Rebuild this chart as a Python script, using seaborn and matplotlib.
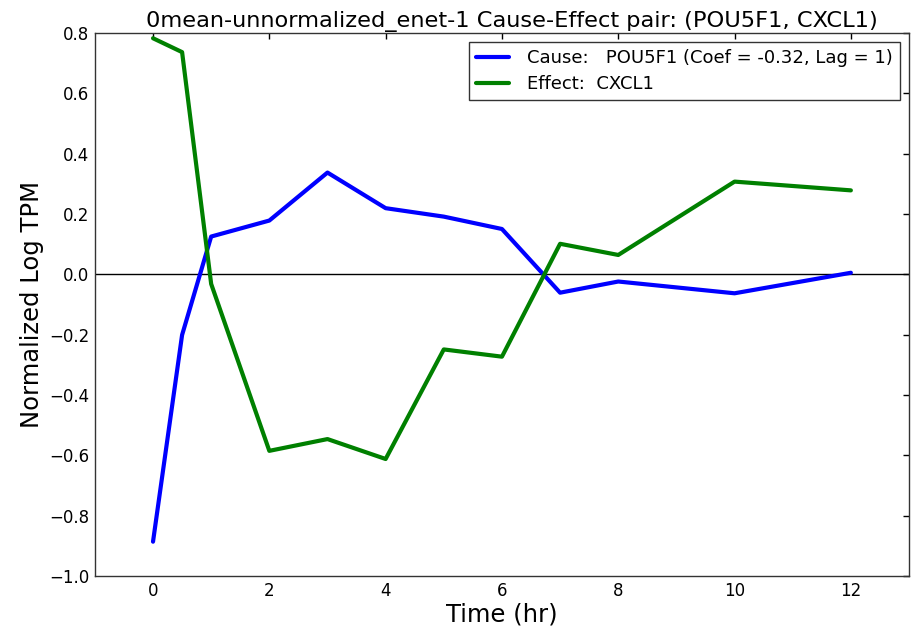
import numpy as np
import pandas as pd
import matplotlib
matplotlib.use("Agg")
import matplotlib.pyplot as plt
from matplotlib.ticker import FuncFormatter
import seaborn as sns

time_hr = [0, 0.5, 1, 2, 3, 4, 5, 6, 7, 8, 10, 12]
cause_pou5f1 = [-0.886, -0.201, 0.125, 0.178, 0.337, 0.219, 0.191, 0.150, -0.061, -0.024, -0.063, 0.005]
effect_cxcl1 = [0.782, 0.736, -0.032, -0.585, -0.546, -0.612, -0.249, -0.273, 0.101, 0.064, 0.307, 0.278]

cause_label = "Cause:   POU5F1 (Coef = -0.32, Lag = 1)"
effect_label = "Effect:  CXCL1"
title = "0mean-unnormalized_enet-1 Cause-Effect pair: (POU5F1, CXCL1)"

sns.set_style("white")
plt.rcParams["font.family"] = ["DejaVu Sans"]
plt.rcParams["text.color"] = "black"
plt.rcParams["axes.labelcolor"] = "black"

df = pd.DataFrame({
    "time": time_hr * 2,
    "value": cause_pou5f1 + effect_cxcl1,
    "series": [cause_label] * len(time_hr) + [effect_label] * len(time_hr),
})

fig = plt.figure(figsize=(9.21, 6.31), dpi=100)
ax = fig.add_axes([0.103, 0.087, 0.884, 0.861])

sns.lineplot(data=df, x="time", y="value", hue="series",
             palette={cause_label: "#0000ff", effect_label: "#008000"},
             linewidth=3, ax=ax, sort=False)
ax.axhline(0, color="black", linewidth=1, zorder=1)

ax.set_xlim(-1, 13)
ax.set_ylim(-1.0, 0.8)
ax.set_xticks([0, 2, 4, 6, 8, 10, 12])
ax.set_yticks(np.round(np.arange(-1.0, 0.81, 0.2), 1))


def fmt_y(v, pos):
    v = round(v, 1)
    if v == 0:
        return "0.0"
    return f"{v:.1f}".replace("-", "\u2212")


ax.yaxis.set_major_formatter(FuncFormatter(fmt_y))
ax.tick_params(direction="in", top=True, right=True, length=4, width=1,
               labelsize=12, colors="black", pad=4)
for s in ax.spines.values():
    s.set_color("#333333")
    s.set_linewidth(1)

ax.set_xlabel("Time (hr)", fontsize=17.5, labelpad=2)
ax.set_ylabel("Normalized Log TPM", fontsize=17.5, labelpad=4)
ax.set_title(title, fontsize=16.2, pad=4, x=0.512)

leg = ax.legend(loc="upper right", fontsize=13, fancybox=False, frameon=True,
                handlelength=1.8, borderpad=0.4, borderaxespad=0.5,
                handletextpad=1.0, labelspacing=0.45)
leg.get_frame().set_edgecolor("black")
leg.get_frame().set_linewidth(1)

fig.savefig("out.png", dpi=100)
